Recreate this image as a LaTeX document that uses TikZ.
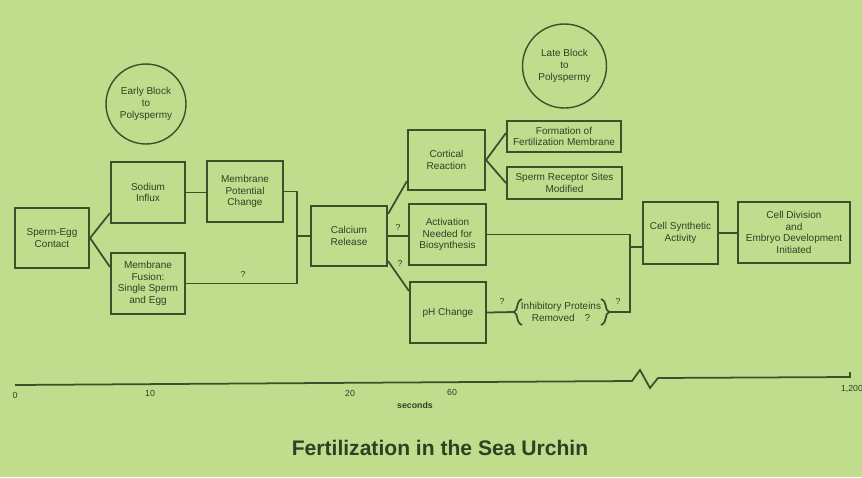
\documentclass[tikz,border=0pt]{standalone}
\usepackage{fontspec}
\setmainfont{Liberation Sans}
\usetikzlibrary{positioning}
\definecolor{pagec}{HTML}{C0DD8E}
\definecolor{linec}{HTML}{38522A}
\definecolor{textc}{HTML}{2E4125}

\begin{document}
\begin{tikzpicture}[x=0.02cm, y=-0.02cm,
    font=\fontsize{5.7}{6.6}\selectfont, text=textc,
    box/.style={draw=linec, line width=1.2pt, align=center, inner sep=1pt},
    blockc/.style={draw=linec, line width=0.8pt, circle, align=center, inner sep=0pt},
    link/.style={draw=linec, line width=1pt},
    qmark/.style={font=\fontsize{5}{6}\selectfont, inner sep=0pt},
    tick/.style={font=\fontsize{5}{6}\selectfont, inner sep=0pt}]
  % page and frame, in pixels of the reference
  \fill[pagec] (0,0) rectangle (862,477);
  \useasboundingbox (0,0) rectangle (862,477);

  % early events
  \node[box, minimum width=1.48cm, minimum height=1.2cm] (contact) at (52,238) {Sperm-Egg\\Contact};
  \node[box, minimum width=1.48cm, minimum height=1.22cm] (sodium) at (148,192.5) {Sodium\\Influx};
  \node[box, minimum width=1.52cm, minimum height=1.22cm] (potential) at (245,191.5) {Membrane\\Potential\\Change};
  \node[box, minimum width=1.48cm, minimum height=1.22cm] (fusion) at (148,283.5) {Membrane\\Fusion:\\Single Sperm\\and Egg};
  \node[blockc, minimum size=1.6cm] (early) at (146,104) {Early Block\\to\\Polyspermy};

  % calcium and what follows
  \node[box, minimum width=1.52cm, minimum height=1.2cm] (calcium) at (349,236) {Calcium\\Release};
  \node[box, minimum width=1.54cm, minimum height=1.2cm] (cortical) at (446.5,160) {Cortical\\Reaction};
  \node[box, minimum width=2.28cm, minimum height=0.62cm] (formation) at (564,136.5) {Formation of\\Fertilization Membrane};
  \node[box, minimum width=2.3cm, minimum height=0.64cm] (receptor) at (564.5,183) {Sperm Receptor Sites\\Modified};
  \node[box, minimum width=1.54cm, minimum height=1.22cm] (activation) at (447.5,234.5) {Activation\\Needed for\\Biosynthesis};
  \node[box, minimum width=1.52cm, minimum height=1.22cm] (ph) at (448,312.5) {pH Change};
  \node[inner sep=1pt, align=center] (inhib) at (561,312) {Inhibitory Proteins\\Removed\quad ?};
  \node[blockc, minimum size=1.68cm] (late) at (564.5,66) {Late Block\\to\\Polyspermy};

  % late events
  \node[box, minimum width=1.5cm, minimum height=1.24cm] (synthetic) at (680.5,233) {Cell Synthetic\\Activity};
  \node[box, minimum width=2.24cm, minimum height=1.22cm] (division) at (794,232.5) {Cell Division\\and\\Embryo Development\\Initiated};

  % junctions
  \coordinate (jfuse) at (297,283.5);
  \coordinate (jcal) at (297,236);
  \coordinate (jtop) at (630,234.5);
  \coordinate (jbot) at (630,312);
  \coordinate (jsyn) at (630,247);
  \coordinate (bl) at (514,312);
  \coordinate (br) at (609,312);

  % connectors
  \draw[link] (contact.east) -- ([yshift=0.22cm]sodium.south west);
  \draw[link] (contact.east) -- ([yshift=-0.3cm]fusion.north west);
  \draw[link] (sodium.east) -- (sodium.east -| potential.west);
  \draw[link] (potential.east) -| (jfuse);
  \draw[link] (fusion.east) -- (jfuse);
  \draw[link] (jcal) -- (calcium.west);
  \draw[link] ([yshift=-0.18cm]calcium.north east) -- ([yshift=0.2cm]cortical.south west);
  \draw[link] (calcium.east) -- (calcium.east -| activation.west);
  \draw[link] ([yshift=0.12cm]calcium.south east) -- ([yshift=-0.2cm]ph.north west);
  \draw[link] (cortical.east) -- ([yshift=0.07cm]formation.west);
  \draw[link] (cortical.east) -- (receptor.west);
  \draw[link] (activation.east) -- (jtop) -- (jbot) -- (br);
  \draw[link] (ph.east) -- (bl);
  \draw[link] (jsyn) -- (jsyn -| synthetic.west);
  \draw[link] (synthetic.east) -- (synthetic.east -| division.west);

  % brackets round the inhibitory proteins
  \draw[link] (522,299) .. controls (515,302) and (519,310) .. (bl) .. controls (519,314) and (515,322) .. (522,325);
  \draw[link] (601,299) .. controls (608,302) and (604,310) .. (br) .. controls (604,314) and (608,322) .. (601,325);

  % question marks
  \foreach \x/\y in {243/274, 398/227, 400/263, 502/301, 618/301}
    \node[qmark] at (\x,\y) {?};

  % time axis
  \draw[linec, line width=1pt] (15,385) -- (632,381) -- (640,370) -- (650,388) -- (658,378) -- (850,377) -- (850,372);
  \foreach \x/\y/\t in {15/395/0, 150/393/10, 350/393/20, 452/392/60, 852/389/{1,200}}
    \node[tick] at (\x,\y) {\t};
  \node[font=\bfseries\fontsize{5}{6}\selectfont] (secs) at (415,405) {seconds};
  \node[font=\bfseries\fontsize{12}{14}\selectfont] (title) at (440,448) {Fertilization in the Sea Urchin};
\end{tikzpicture}
\end{document}
